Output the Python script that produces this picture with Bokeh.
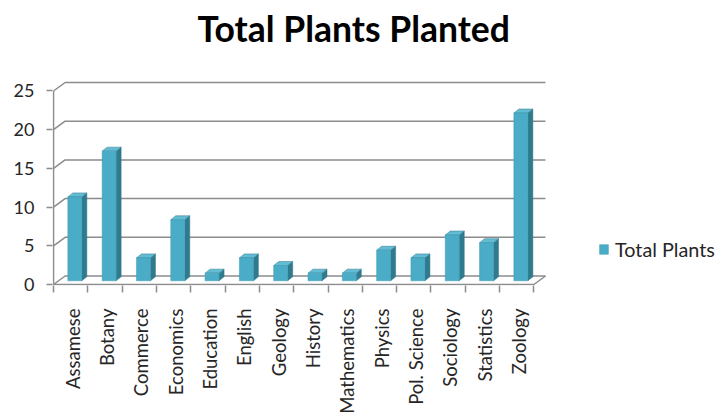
import math
from bokeh.plotting import figure
from bokeh.models import Range1d, FixedTicker, Legend, LegendItem, ColumnDataSource
from bokeh.core.properties import value
from bokeh.embed import file_html
from bokeh.resources import INLINE

# ---- data ----
categories = ["Assamese", "Botany", "Commerce", "Economics", "Education", "English",
              "Geology", "History", "Mathematics", "Physics", "Pol. Science",
              "Sociology", "Statistics", "Zoology"]
total_plants = [11, 17, 3, 8, 1, 3, 2, 1, 1, 4, 3, 6, 5, 22]
y_ticks = [0, 5, 10, 15, 20, 25]
title_text = "Total Plants Planted"
series_name = "Total Plants"

# ---- geometry / style ----
n = len(categories)
YMAX = y_ticks[-1]
PX_X, PX_Y = 34.31, 7.74   # pixels per data unit
X0, Y0 = -0.03, -0.13
FW, FH = 664, 285
DX = 0.338      # wall depth (x, category units)
DY = 1.10       # wall depth (y, value units)
BO, BW = 0.417, 0.408   # bar front-face offset and width
BDX, BDY = 0.146, 0.52  # bar depth
BB, BS = 0.48, 0.985    # bar base and height scale
GRID = "#8c8c8c"
FRONT, SIDE, TOP = "#4aacc6", "#2f7a8d", "#62bcd3"
FONT = "Lato"
TITLE_X, TITLE_Y = 8.75, 33.1

p = figure(frame_width=FW, frame_height=FH,
           x_range=Range1d(X0, X0 + FW / PX_X), y_range=Range1d(Y0, Y0 + FH / PX_Y),
           output_backend="svg", toolbar_location=None,
           min_border_left=52, min_border_right=0, min_border_top=0, min_border_bottom=132)
p.outline_line_color = None
p.xgrid.visible = False
p.ygrid.visible = False

# title
p.text(x=[TITLE_X], y=[TITLE_Y], text=[title_text], text_align="center",
       text_baseline="alphabetic", text_font=value(FONT), text_font_style="bold",
       text_font_size="35.5px", text_color="#000000")

# walls: gridlines on side wall + back wall
gx = [[0, DX, n + DX] for _ in y_ticks]
gy = [[v, v + DY, v + DY] for v in y_ticks]
p.multi_line(gx, gy, line_color=GRID, line_width=1.5)
# floor front edge and right diagonal, front vertical axis
p.line([0, n, n + DX], [0, 0, DY], line_color=GRID, line_width=1.5)
p.line([0, 0], [0, YMAX], line_color=GRID, line_width=1.5)

# bars
lefts = [i + BO for i in range(n)]
rights = [l + BW for l in lefts]
tops = [BB + v * BS for v in total_plants]
bottoms = [BB] * n
side_xs = [[r, r + BDX, r + BDX, r] for r in rights]
side_ys = [[BB, BB + BDY, t + BDY, t] for t in tops]
top_xs = [[l, r, r + BDX, l + BDX] for l, r in zip(lefts, rights)]
top_ys = [[t, t, t + BDY, t + BDY] for t in tops]
p.patches(side_xs, side_ys, fill_color=SIDE, line_color=SIDE, line_width=0.5)
p.patches(top_xs, top_ys, fill_color=TOP, line_color=SIDE, line_width=0.5)
src = ColumnDataSource(dict(left=lefts, right=rights, top=tops, bottom=bottoms))
front = p.quad(left="left", right="right", top="top", bottom="bottom", source=src,
               fill_color=FRONT, line_color="#3f9ab3", line_width=0.5)

# axes
yax = p.yaxis[0]
yax.ticker = FixedTicker(ticks=y_ticks, minor_ticks=[])
yax.axis_line_color = None
yax.major_tick_out = 6
yax.major_tick_in = 0
yax.major_tick_line_color = GRID
yax.major_tick_line_width = 1.5
yax.major_label_standoff = 12
yax.major_label_text_font = FONT
yax.major_label_text_font_size = "18px"
yax.major_label_text_color = "#262626"

xax = p.xaxis[0]
label_pos = [i + 0.5625 for i in range(n)]
xax.ticker = FixedTicker(ticks=label_pos, minor_ticks=list(range(n + 1)))
xax.major_label_overrides = {pos: c for pos, c in zip(label_pos, categories)}
xax.axis_line_color = None
xax.major_tick_out = 0
xax.major_tick_in = 0
xax.minor_tick_out = 7
xax.minor_tick_in = 0
xax.minor_tick_line_color = GRID
xax.minor_tick_line_width = 1.5
xax.major_label_orientation = math.pi / 2
xax.major_label_standoff = 16
xax.major_label_text_font = FONT
xax.major_label_text_font_size = "18.5px"
xax.major_label_text_color = "#262626"

# legend (inside the frame, right of the walls)
legend = Legend(items=[LegendItem(label=series_name, renderers=[front])],
                location=(546, 24.5), padding=0, margin=0, spacing=0,
                glyph_width=11, glyph_height=12, label_height=12, label_standoff=6,
                border_line_color=None, background_fill_alpha=0,
                label_text_font=FONT, label_text_font_size="19.8px", label_text_color="#262626")
p.add_layout(legend)

open("out.html", "w").write(file_html(p, INLINE))
